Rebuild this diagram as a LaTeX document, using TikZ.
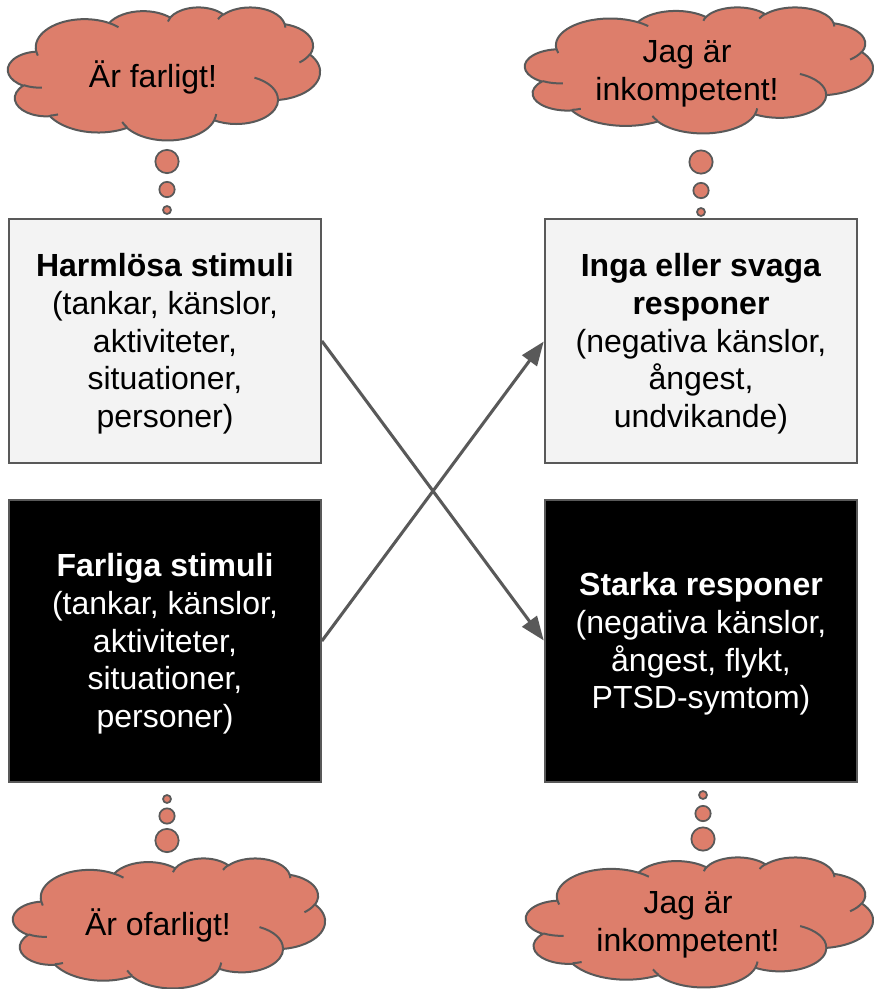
\documentclass[tikz,border=0pt]{standalone}
\usepackage{fontspec}
\setmainfont{Liberation Sans}
\usetikzlibrary{arrows.meta}

\definecolor{cloudfill}{HTML}{DD7E6B}
\definecolor{edgegray}{HTML}{595959}
\definecolor{lightbox}{HTML}{F3F3F3}

% ---- cloud path (DrawingML preset "cloud", path space 432 x 432) ----
\newcommand\ooaddarc[5]{%
  \pgfmathsetmacro\ooA{atan2(#2*sin(#4),#3*cos(#4))}%
  \pgfmathsetmacro\ooB{atan2(#2*sin(#4+#5),#3*cos(#4+#5))}%
  \pgfmathsetmacro\ooB{\ooB-360*round((\ooB-\ooA-(#5))/360)}%
  \xdef#1{\unexpanded\expandafter{#1} arc[start angle=\ooA, end angle=\ooB, x radius=#2, y radius=#3]}%
}
\newcommand\ooaddmove[3]{\xdef#1{\unexpanded\expandafter{#1} (#2,#3)}}

\gdef\cloudO{}
\ooaddmove\cloudO{39.00}{143.70}
\ooaddarc\cloudO{67.53}{91.90}{-190.48748}{123.78053}
\ooaddarc\cloudO{53.33}{72.67}{-144.10238}{89.94523}
\ooaddarc\cloudO{43.65}{59.45}{-145.80792}{99.72302}
\ooaddarc\cloudO{48.57}{65.95}{-130.98607}{117.24173}
\ooaddarc\cloudO{53.33}{72.73}{-78.70888}{109.02692}
\ooaddarc\cloudO{67.75}{92.20}{-46.26725}{130.269}
\ooaddarc\cloudO{57.85}{78.67}{0.62502}{114.03333}
\ooaddarc\cloudO{67.52}{92.15}{22.4516}{115.17255}
\ooaddarc\cloudO{77.20}{105.43}{66.24263}{75.71102}
\ooaddarc\cloudO{43.60}{59.18}{-274.94208}{146.73557}
\ooaddarc\cloudO{43.45}{59.45}{-246.8285}{152.51885}
\xdef\cloudO{\unexpanded\expandafter{\cloudO} -- cycle}

\gdef\cloudI{}
\ooaddmove\cloudI{46.93}{261.77}
\ooaddarc\cloudI{43.45}{59.45}{86.742}{26.4295}
\ooaddmove\cloudI{69.28}{348.99}
\ooaddarc\cloudI{43.60}{59.18}{73.61047}{11.44747}
\ooaddmove\cloudI{164.78}{390.90}
\ooaddarc\cloudI{67.52}{92.15}{137.62415}{14.0811}
\ooaddmove\cloudI{288.27}{347.51}
\ooaddarc\cloudI{67.52}{92.15}{6.45327}{15.99835}
\ooaddmove\cloudI{341.29}{229.54}
\ooaddarc\cloudI{57.85}{78.67}{-70.29235}{70.91737}
\ooaddmove\cloudI{417.98}{153.54}
\ooaddarc\cloudI{53.33}{72.73}{30.31803}{27.7515}
\ooaddmove\cloudI{383.24}{54.26}
\ooaddarc\cloudI{48.57}{65.95}{-13.74433}{14.8589}
\ooaddmove\cloudI{290.78}{39.52}
\ooaddarc\cloudI{48.57}{65.95}{-149.18145}{18.19537}
\ooaddmove\cloudI{221.41}{47.20}
\ooaddarc\cloudI{43.65}{59.45}{-163.49427}{17.68635}
\ooaddmove\cloudI{140.00}{51.92}
\ooaddarc\cloudI{67.53}{91.90}{-66.70695}{12.31935}
\ooaddmove\cloudI{41.27}{157.89}
\ooaddarc\cloudI{67.53}{91.90}{157.65435}{11.85817}

\newcommand\drawcloud[4]{%
  \pgfmathsetmacro\cxs{#3/432}%
  \pgfmathsetmacro\cys{#4/432}%
  \begin{scope}[shift={(#1,#2)}, xscale=\cxs, yscale=\cys]
    \filldraw[cloudshape] \cloudO;
    \draw[cloudshape, fill=none] \cloudI;
  \end{scope}}

\newcommand\boxfont{\fontsize{24pt}{28.3pt}\selectfont}
\newcommand\topstrut{\rule{0pt}{21.75pt}}

\tikzset{
  cloudshape/.style={fill=cloudfill, draw=edgegray, line width=1.5pt, line join=round},
  bubble/.style={circle, fill=cloudfill, draw=edgegray, line width=1.3pt, inner sep=0pt},
  boxbase/.style={rectangle, draw=edgegray, line width=1.3pt, inner sep=0pt,
    minimum width=234pt, align=center, font=\boxfont},
  lightnode/.style={boxbase, fill=lightbox, text=black},
  darknode/.style={boxbase, fill=black, text=white},
  thought/.style={align=center, font=\boxfont, inner sep=0pt},
  link/.style={draw=edgegray, line width=2.3pt,
    -{Triangle[length=18pt, width=13.5pt]}, shorten >=0.5pt},
}

\begin{document}
\begin{tikzpicture}[x=0.75pt, y=-0.75pt]
  \useasboundingbox (0,0) rectangle (874,989);

  % clouds
  \drawcloud{8}{7}{312}{133}
  \drawcloud{525}{7}{348}{126}
  \drawcloud{13}{858}{312}{130}
  \drawcloud{526}{857}{347}{130}

  \node[thought] (t1) at (153,77) {Är farligt!};
  \node[thought] (t2) at (687,74) {Jag är\\inkompetent!};
  \node[thought] (t3) at (158,925) {Är ofarligt!};
  \node[thought] (t4) at (688,924.5) {Jag är\\inkompetent!};

  % thought bubbles
  \node[bubble, minimum size=17.5pt] (a1) at (167,161.5) {};
  \node[bubble, minimum size=11.5pt] (a2) at (167,189.5) {};
  \node[bubble, minimum size=6pt]   (a3) at (167,210) {};

  \node[bubble, minimum size=17.5pt] (b1) at (701,162) {};
  \node[bubble, minimum size=11.5pt] (b2) at (701,190.5) {};
  \node[bubble, minimum size=6pt]   (b3) at (701,212) {};

  \node[bubble, minimum size=6pt]   (c3) at (167,799) {};
  \node[bubble, minimum size=11.5pt] (c2) at (167,816) {};
  \node[bubble, minimum size=17.5pt] (c1) at (167,840.5) {};

  \node[bubble, minimum size=6pt]   (d3) at (703,795) {};
  \node[bubble, minimum size=11.5pt] (d2) at (703,813.5) {};
  \node[bubble, minimum size=17.5pt] (d1) at (703,839) {};

  % boxes
  \node[lightnode, minimum height=183pt] (harm) at (165,341)
    {\topstrut\textbf{Harmlösa stimuli}\\(tankar, känslor,\\aktiviteter,\\situationer,\\personer)};
  \node[darknode, minimum height=211.5pt] (farl) at (165,641)
    {\topstrut\textbf{Farliga stimuli}\\(tankar, känslor,\\aktiviteter,\\situationer,\\personer)};
  \node[lightnode, minimum height=183pt] (inga) at (701,341)
    {\topstrut\textbf{Inga eller svaga}\\\textbf{responer}\\(negativa känslor,\\ångest,\\undvikande)};
  \node[darknode, minimum height=211.5pt] (stark) at (701,641)
    {\topstrut\textbf{Starka responer}\\(negativa känslor,\\ångest, flykt,\\PTSD-symtom)};

  % arrows
  \draw[link] (harm.east) -- (stark.west);
  \draw[link] (farl.east) -- (inga.west);
\end{tikzpicture}
\end{document}
